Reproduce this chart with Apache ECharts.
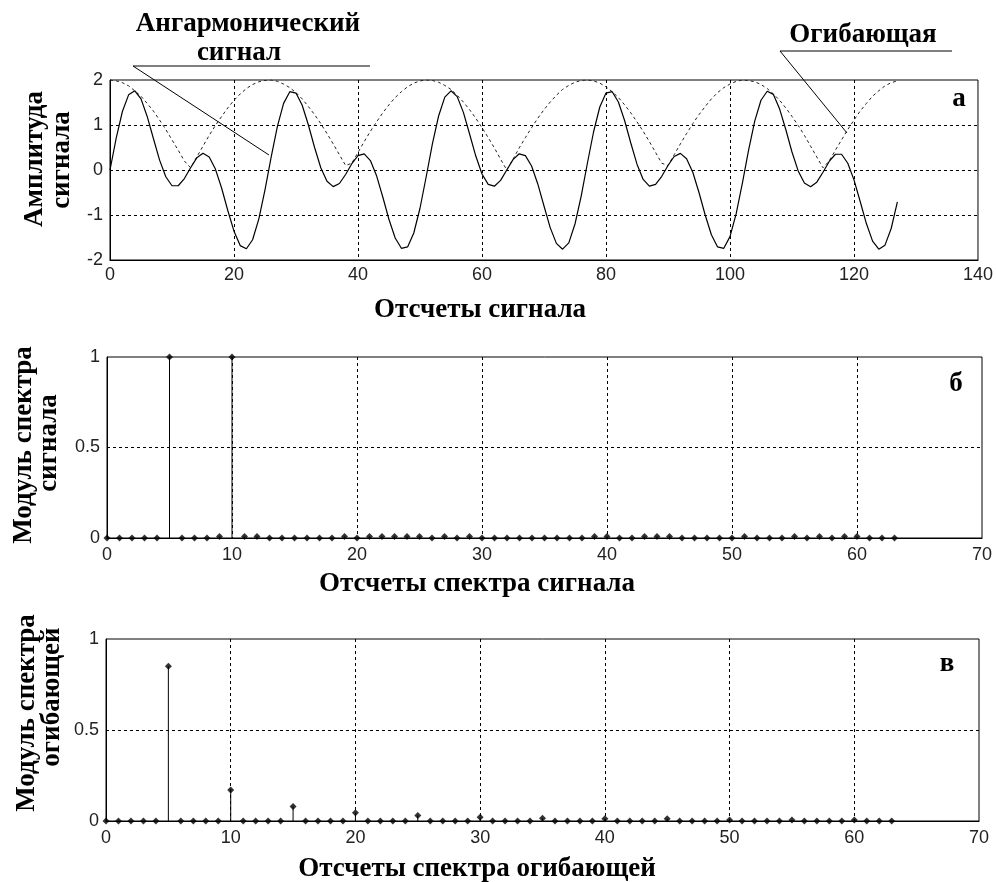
<!DOCTYPE html>
<html>
<head>
<meta charset="utf-8">
<script src="https://cdn.jsdelivr.net/npm/echarts@6/dist/echarts.min.js"></script>
<style>
html, body { margin: 0; padding: 0; background: #fff; }
#chart { width: 996px; height: 882px; }
</style>
</head>
<body>
<div id="chart"></div>
<script>
// панель а: ангармонический сигнал и его огибающая (отсчеты 0..127)
var signal = [
  0.00, 0.71, 1.30, 1.67, 1.76, 1.58, 1.19, 0.70, 0.22, -0.15, -0.35, -0.35, -0.19, 0.05, 0.27, 0.37,
  0.29, 0.02, -0.40, -0.90, -1.36, -1.68, -1.75, -1.55, -1.09, -0.44, 0.29, 0.97, 1.48, 1.74, 1.71, 1.44,
  1.00, 0.50, 0.05, -0.25, -0.37, -0.30, -0.10, 0.14, 0.32, 0.36, 0.21, -0.13, -0.60, -1.10, -1.51, -1.74,
  -1.71, -1.40, -0.85, -0.15, 0.58, 1.20, 1.62, 1.76, 1.63, 1.28, 0.80, 0.31, -0.09, -0.32, -0.36, -0.23,
  0.00, 0.23, 0.36, 0.32, 0.09, -0.31, -0.80, -1.28, -1.63, -1.76, -1.62, -1.20, -0.58, 0.15, 0.85, 1.40,
  1.71, 1.74, 1.51, 1.10, 0.60, 0.13, -0.21, -0.36, -0.32, -0.14, 0.10, 0.30, 0.37, 0.25, -0.05, -0.50,
  -1.00, -1.44, -1.71, -1.74, -1.48, -0.97, -0.29, 0.44, 1.09, 1.55, 1.75, 1.68, 1.36, 0.90, 0.40, -0.02,
  -0.29, -0.37, -0.27, -0.05, 0.19, 0.35, 0.35, 0.15, -0.22, -0.70, -1.19, -1.58, -1.76, -1.67, -1.30, -0.71
];
var envelope = [
  2.00, 1.98, 1.94, 1.87, 1.76, 1.64, 1.48, 1.31, 1.11, 0.90, 0.67, 0.44, 0.20, 0.05, 0.29, 0.53,
  0.77, 0.99, 1.19, 1.38, 1.55, 1.69, 1.81, 1.90, 1.96, 1.99, 2.00, 1.97, 1.91, 1.83, 1.72, 1.58,
  1.41, 1.23, 1.03, 0.81, 0.58, 0.34, 0.10, 0.15, 0.39, 0.63, 0.86, 1.07, 1.27, 1.45, 1.61, 1.74,
  1.85, 1.93, 1.98, 2.00, 1.99, 1.95, 1.88, 1.79, 1.66, 1.51, 1.34, 1.15, 0.94, 0.72, 0.49, 0.24,
  0.00, 0.24, 0.49, 0.72, 0.94, 1.15, 1.34, 1.51, 1.66, 1.79, 1.88, 1.95, 1.99, 2.00, 1.98, 1.93,
  1.85, 1.74, 1.61, 1.45, 1.27, 1.07, 0.86, 0.63, 0.39, 0.15, 0.10, 0.34, 0.58, 0.81, 1.03, 1.23,
  1.41, 1.58, 1.72, 1.83, 1.91, 1.97, 2.00, 1.99, 1.96, 1.90, 1.81, 1.69, 1.55, 1.38, 1.19, 0.99,
  0.77, 0.53, 0.29, 0.05, 0.20, 0.44, 0.67, 0.90, 1.11, 1.31, 1.48, 1.64, 1.76, 1.87, 1.94, 1.98
];

// панель б: модуль спектра сигнала (отсчеты 0..63)
var signalSpectrum = [
  0, 0, 0, 0, 0, 1, 0, 0, 0, 0.008, 1, 0.008, 0.008, 0, 0, 0,
  0, 0, 0, 0.008, 0, 0.008, 0.008, 0.008, 0.008, 0.008, 0, 0.008, 0, 0.008, 0, 0,
  0, 0, 0, 0, 0, 0, 0, 0.008, 0.008, 0, 0, 0.008, 0.008, 0.008, 0, 0,
  0, 0, 0, 0.008, 0, 0, 0, 0.008, 0, 0.008, 0, 0.008, 0.008, 0, 0, 0
];

// панель в: модуль спектра огибающей (отсчеты 0..63)
var envelopeSpectrum = [
  0, 0, 0, 0, 0, 0.85, 0, 0, 0, 0, 0.17, 0, 0, 0, 0, 0.08,
  0, 0, 0, 0, 0.045, 0, 0, 0, 0, 0.03, 0, 0, 0, 0, 0.02, 0,
  0, 0, 0, 0.015, 0, 0, 0, 0, 0.012, 0, 0, 0, 0, 0.012, 0, 0,
  0, 0, 0.006, 0, 0, 0, 0, 0.005, 0, 0, 0, 0, 0.005, 0, 0, 0
];

var xTicksA = [0, 140, 20];
var yTicksA = [-2, 2, 1];
var xTicksSpec = [0, 70, 10];
var yTicksSpec = [0, 1, 0.5];

var serif = '"Liberation Serif", "Times New Roman", serif';
var sans = '"Liberation Sans Narrow", "Liberation Sans", Arial, sans-serif';

function pairs(arr) {
  return arr.map(function (v, i) { return [i, v]; });
}

function axis(grid, ticks, margin) {
  return {
    gridIndex: grid,
    type: 'value',
    min: ticks[0],
    max: ticks[1],
    interval: ticks[2],
    axisLine: { show: true, onZero: false, lineStyle: { color: '#000', width: 1 } },
    axisTick: { show: false },
    splitLine: {
      show: true,
      showMinLine: false,
      showMaxLine: false,
      lineStyle: { color: '#000', width: 1, type: [3, 3] }
    },
    axisLabel: {
      color: '#222',
      fontFamily: sans,
      fontSize: 18,
      margin: margin
    }
  };
}

function label(text, x, y, rotated) {
  return {
    type: 'text',
    x: x,
    y: y,
    rotation: rotated ? Math.PI / 2 : 0,
    style: {
      text: text,
      fill: '#000',
      fontFamily: serif,
      fontWeight: 'bold',
      fontSize: 27,
      align: 'center',
      verticalAlign: 'middle'
    }
  };
}

function stroke(x1, y1, x2, y2) {
  return {
    type: 'line',
    shape: { x1: x1, y1: y1, x2: x2, y2: y2 },
    style: { stroke: '#000', lineWidth: 1 }
  };
}

var chart = echarts.init(document.getElementById('chart'));
chart.setOption({
  animation: false,
  backgroundColor: '#fff',
  grid: [
    { left: 110, top: 80, width: 871, height: 180, show: true, borderColor: '#000', borderWidth: 1 },
    { left: 107, top: 357, width: 875, height: 181, show: true, borderColor: '#000', borderWidth: 1 },
    { left: 106, top: 639, width: 873, height: 182, show: true, borderColor: '#000', borderWidth: 1 }
  ],
  xAxis: [axis(0, xTicksA, 6), axis(1, xTicksSpec, 8), axis(2, xTicksSpec, 8)],
  yAxis: [axis(0, yTicksA, 7), axis(1, yTicksSpec, 7), axis(2, yTicksSpec, 7)],
  series: [
    {
      name: 'Огибающая',
      type: 'line',
      xAxisIndex: 0,
      yAxisIndex: 0,
      data: pairs(envelope),
      showSymbol: false,
      lineStyle: { color: '#222', width: 1, type: [3, 3] }
    },
    {
      name: 'Ангармонический сигнал',
      type: 'line',
      xAxisIndex: 0,
      yAxisIndex: 0,
      data: pairs(signal),
      showSymbol: false,
      lineStyle: { color: '#000', width: 1.2 }
    },
    {
      type: 'bar',
      xAxisIndex: 1,
      yAxisIndex: 1,
      data: pairs(signalSpectrum),
      barWidth: 1,
      itemStyle: { color: '#000' }
    },
    {
      type: 'scatter',
      xAxisIndex: 1,
      yAxisIndex: 1,
      data: pairs(signalSpectrum),
      symbol: 'diamond',
      symbolSize: 7,
      itemStyle: { color: '#000' }
    },
    {
      type: 'bar',
      xAxisIndex: 2,
      yAxisIndex: 2,
      data: pairs(envelopeSpectrum),
      barWidth: 1,
      itemStyle: { color: '#000' }
    },
    {
      type: 'scatter',
      xAxisIndex: 2,
      yAxisIndex: 2,
      data: pairs(envelopeSpectrum),
      symbol: 'diamond',
      symbolSize: 7,
      itemStyle: { color: '#000' }
    }
  ],
  graphic: [
    // подписи к кривым со сносками
    label('Ангармонический', 248, 24),
    label('сигнал', 239, 53),
    stroke(133, 66, 370, 66),
    stroke(133, 66, 269, 155),
    label('Огибающая', 863, 35),
    stroke(780, 51, 952, 51),
    stroke(780, 51, 847, 133),
    // буквы панелей
    label('а', 959, 99),
    label('б', 956, 384),
    label('в', 947, 664),
    // подписи осей
    label('Амплитуда', 35, 159, true),
    label('сигнала', 62, 160, true),
    label('Отсчеты сигнала', 480, 310),
    label('Модуль спектра', 24, 445, true),
    label('сигнала', 49, 443, true),
    label('Отсчеты спектра сигнала', 477, 584),
    label('Модуль спектра', 27, 713, true),
    label('огибающей', 52, 697, true),
    label('Отсчеты спектра огибающей', 477, 869)
  ]
});
</script>
</body>
</html>
